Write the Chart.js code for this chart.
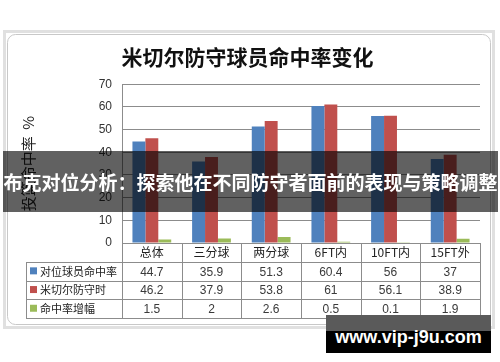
<!DOCTYPE html>
<html>
<head>
<meta charset="utf-8">
<script src="https://cdn.jsdelivr.net/npm/chart.js@4.4.1/dist/chart.umd.min.js"></script>
<style>
  body { margin: 0; background: #fff; }
  #wrap { position: relative; width: 500px; height: 362px; overflow: hidden; }
  #banner {
    position: absolute; left: 3px; top: 151px; width: 495px; height: 61px;
    background: rgba(0, 0, 0, 0.62); color: #fff;
    font: bold 19px "Noto Sans CJK SC", sans-serif; line-height: 61px;
    text-align: center; white-space: nowrap;
  }
  #markTop { position: absolute; left: 326px; top: 315px; width: 165px; height: 16px; background: #5a5a5a; }
  #mark {
    position: absolute; left: 326px; top: 331px; width: 165px; height: 22px; background: #000;
  }
  #markText {
    position: absolute; left: 326px; top: 322px; width: 165px; height: 30px;
    color: #fff; font: bold 18px "Liberation Sans", Arial, sans-serif; line-height: 30px; text-align: center;
  }
</style>
</head>
<body>
<div id="wrap">
  <canvas id="chart" width="500" height="362"></canvas>
  <div id="banner">布克对位分析：探索他在不同防守者面前的表现与策略调整</div>
  <div id="markTop"></div>
  <div id="mark"></div>
  <div id="markText">www.vip-j9u.com</div>
</div>
<script>
// données
const categories = ['总体', '三分球', '两分球', '6FT内', '10FT内', '15FT外'];
const seriesNames = ['对位球员命中率', '米切尔防守时', '命中率增幅'];
const opponentPct = [44.7, 35.9, 51.3, 60.4, 56, 37];
const mitchellPct = [46.2, 37.9, 53.8, 61, 56.1, 38.9];
const pctIncrease = [1.5, 2, 2.6, 0.5, 0.1, 1.9];
const seriesColors = ['#4F81BD', '#C0504D', '#9BBB59'];
const yMin = 0, yMax = 70, yStep = 10;

const seriesValues = [opponentPct, mitchellPct, pctIncrease];
const cjk = '"Noto Sans CJK SC", sans-serif';

// cadre gris autour du graphique (style Excel)
const framePlugin = {
  id: 'frame',
  beforeDraw(chart) {
    const ctx = chart.ctx;
    ctx.save();
    ctx.strokeStyle = '#e0e0e0';
    ctx.lineWidth = 3;
    ctx.strokeRect(4.5, 31.5, 489, 296);
    ctx.strokeStyle = '#c8c8c8';
    ctx.lineWidth = 1;
    ctx.beginPath();
    ctx.roundRect(7.5, 34.5, 483, 290, 8);
    ctx.stroke();
    ctx.restore();
  }
};

// tableau de données sous l'axe des x
const tablePlugin = {
  id: 'dataTable',
  afterDraw(chart) {
    const ctx = chart.ctx;
    const x = chart.scales.x;
    const n = categories.length;
    const w = (x.right - x.left) / n;
    const top = chart.chartArea.bottom;
    const headerH = 19, rowH = 18.7, tableLeft = 26;
    const bottom = top + headerH + rowH * seriesNames.length;

    ctx.save();
    ctx.strokeStyle = '#8c8c8c';
    ctx.lineWidth = 1;
    ctx.beginPath();
    for (let i = 0; i <= n; i++) {
      const xi = Math.round(x.left + i * w) + 0.5;
      ctx.moveTo(xi, top);
      ctx.lineTo(xi, bottom);
    }
    ctx.moveTo(tableLeft + 0.5, top + headerH);
    ctx.lineTo(tableLeft + 0.5, bottom);
    for (let k = 0; k <= seriesNames.length; k++) {
      const yk = Math.round(top + headerH + k * rowH) + 0.5;
      ctx.moveTo(tableLeft, yk);
      ctx.lineTo(x.right, yk);
    }
    ctx.stroke();

    ctx.textBaseline = 'middle';
    seriesNames.forEach((name, s) => {
      const cy = top + headerH + s * rowH + rowH / 2;
      ctx.fillStyle = seriesColors[s];
      ctx.fillRect(tableLeft + 4, cy - 4, 7, 7);
      ctx.fillStyle = '#222';
      ctx.textAlign = 'left';
      ctx.font = '11px ' + cjk;
      ctx.fillText(name, tableLeft + 14, cy);
      ctx.textAlign = 'center';
      ctx.font = '12px "Liberation Sans", Arial, sans-serif';
      ctx.fillStyle = '#3a3a3a';
      seriesValues[s].forEach((v, i) => {
        ctx.fillText(String(v), x.getPixelForValue(i), cy + 1);
      });
    });
    ctx.restore();
  }
};

const ctx = document.getElementById('chart').getContext('2d');
const chart = new Chart(ctx, {
  type: 'bar',
  data: {
    labels: categories,
    datasets: seriesNames.map((name, s) => ({
      label: name,
      data: seriesValues[s],
      backgroundColor: seriesColors[s],
      borderWidth: 0,
      categoryPercentage: 0.65,
      barPercentage: 1.0
    }))
  },
  options: {
    responsive: false,
    animation: false,
    layout: { padding: { left: 15, right: 20, top: 31, bottom: 44 } },
    plugins: {
      legend: { display: false },
      tooltip: { enabled: false },
      title: {
        display: true,
        text: '米切尔防守球员命中率变化',
        color: '#111',
        font: { family: cjk, size: 21, weight: 'bold' },
        padding: { top: 13, bottom: 15 }
      }
    },
    scales: {
      x: {
        grid: { display: false, drawTicks: false },
        border: { color: '#8c8c8c' },
        ticks: { color: '#222', font: { family: cjk, size: 12 }, padding: 2, maxRotation: 0 },
        afterFit(scale) { scale.height = 75; }
      },
      y: {
        min: yMin,
        max: yMax,
        ticks: { stepSize: yStep, color: '#333', font: { family: '"Liberation Sans", Arial, sans-serif', size: 12 }, padding: 10 },
        grid: { color: '#8c8c8c', drawTicks: false },
        border: { color: '#8c8c8c' },
        title: {
          display: true,
          text: '投篮命中率  %',
          color: '#222',
          font: { family: cjk, size: 15 },
          padding: { top: 4, bottom: 0 }
        },
        afterFit(scale) { scale.width = 107; }
      }
    }
  },
  plugins: [framePlugin, tablePlugin]
});
</script>
</body>
</html>
